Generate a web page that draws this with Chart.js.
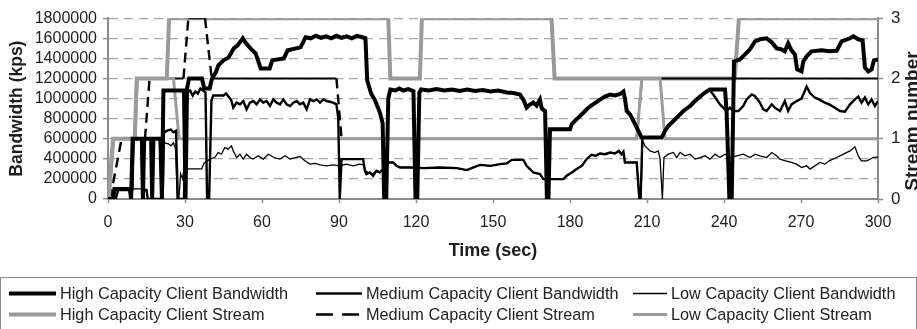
<!DOCTYPE html>
<html>
<head>
<meta charset="utf-8">
<script src="https://cdn.jsdelivr.net/npm/chart.js@4.4.1/dist/chart.umd.min.js"></script>
<style>
  html, body { margin:0; padding:0; background:#fff; }
  #wrap { position:relative; width:917px; height:329px; overflow:hidden; }
  #c { position:absolute; left:0; top:0; }
  #legend { position:absolute; left:0; top:277px; width:917px; height:80px; box-sizing:border-box;
            border:1px solid #8a8a8a; font-family:"Liberation Sans", Arial, sans-serif; font-size:16.3px; color:#222; }
  .item { position:absolute; white-space:nowrap; line-height:18px; height:18px; }
  .item svg { position:absolute; top:0; }
  .item span { position:absolute; top:0; }
</style>
</head>
<body>
<div id="wrap">
  <canvas id="c" width="917" height="280"></canvas>
  <div id="legend"></div>
</div>
<script>
// ---------- data (time in sec, bandwidth in kps, streams as count) ----------
const xTicks = [0, 30, 60, 90, 120, 150, 180, 210, 240, 270, 300];
const yTicks = [0, 200000, 400000, 600000, 800000, 1000000, 1200000, 1400000, 1600000, 1800000];
const streamTicks = [0, 1, 2, 3];

const seriesNames = [
  "High Capacity Client Bandwidth", "Medium Capacity Client Bandwidth", "Low Capacity Client Bandwidth",
  "High Capacity Client Stream", "Medium Capacity Client Stream", "Low Capacity Client Stream"
];
const xTitle = "Time (sec)";
const yTitle = "Bandwidth (kps)";
const y2Title = "Stream number";

const highBandwidth = [[0,0],[2,0],[2.5,100000],[8.5,100000],[9,0],[9.6,600000],[13.2,600000],[13.6,0],[14.1,600000],[16.8,600000],[17.2,0],[17.7,600000],[20.4,600000],[21,0],[21.6,1080000],[29.6,1080000],[30.2,0],[30.8,1100000],[31.6,1200000],[36.6,1200000],[37.5,1100000],[39.6,1100000],[40.5,1200000],[42,1260000],[43,1330000],[45,1380000],[47,1410000],[49,1500000],[50.5,1530000],[52.5,1600000],[53.5,1560000],[55.5,1500000],[57.5,1450000],[59.5,1300000],[63,1300000],[64,1380000],[68.5,1400000],[70,1480000],[75,1510000],[77,1610000],[79,1600000],[81,1625000],[83,1605000],[85,1620000],[87,1600000],[89,1625000],[91,1605000],[93,1620000],[95,1600000],[97,1625000],[99,1610000],[100.3,1600000],[101,1180000],[102.5,1050000],[104,985000],[106,855000],[107,755000],[107.6,0],[108.4,0],[109.2,1000000],[110,1090000],[112,1080000],[113.5,1100000],[115,1080000],[117,1095000],[119,1075000],[119.8,0],[120.5,0],[121.3,1060000],[122,1090000],[125,1080000],[128,1095000],[131,1080000],[134,1090000],[137,1075000],[140,1090000],[143,1075000],[146,1085000],[149,1070000],[152,1080000],[155.4,1060000],[158,1055000],[160.5,1040000],[161.8,990000],[163.1,910000],[164.4,940000],[165.7,960000],[167,930000],[168.3,990000],[169,900000],[170.3,875000],[171,0],[171.6,0],[172.2,695000],[180,695000],[180.7,745000],[182.6,795000],[184.6,843000],[186.5,893000],[188,925000],[191.7,990000],[193.6,1020000],[195.6,1040000],[197.5,1030000],[199.5,1045000],[200.8,1070000],[201.4,1000000],[202.1,876000],[203.4,843000],[204.7,777000],[206,710000],[207.9,612000],[215.7,612000],[217,678000],[218.3,727000],[220.3,777000],[222.2,826000],[224.2,876000],[226.8,926000],[228.7,975000],[230.7,1020000],[232.6,1060000],[234.5,1090000],[240.4,1090000],[241,880000],[242.1,0],[243,0],[243.9,1370000],[246.2,1390000],[248.2,1440000],[250.1,1490000],[252.1,1570000],[254,1590000],[256.6,1600000],[258.6,1560000],[260.5,1500000],[262.4,1490000],[263.7,1470000],[265,1550000],[266.3,1480000],[267.6,1440000],[268.5,1290000],[270.2,1270000],[270.9,1370000],[272.2,1420000],[274.1,1470000],[278,1480000],[281,1470000],[283.9,1475000],[285.8,1570000],[289.1,1600000],[290.4,1620000],[292.3,1590000],[294,1580000],[294.9,1310000],[296.2,1270000],[297.5,1290000],[298.4,1380000],[300,1390000]];

const mediumBandwidth = [[0,0],[3,0],[4,90000],[9.5,90000],[10,600000],[13,600000],[13.5,90000],[15,90000],[15.5,0],[21.3,0],[21.8,660000],[23,680000],[24.5,690000],[25.5,665000],[26.5,680000],[27.2,0],[29.6,0],[30.4,1050000],[32,1080000],[33,1030000],[34,1070000],[35,1050000],[36,1100000],[37,1080000],[38,1060000],[38.6,0],[39.4,0],[40.3,980000],[41,1030000],[45,1030000],[46,1050000],[48,985000],[48.8,909000],[50.1,959000],[51.4,942000],[52.7,975000],[54,893000],[55.3,959000],[56.6,975000],[57.9,942000],[59.2,992000],[60.5,959000],[61.8,975000],[63.1,926000],[64.4,992000],[65.7,959000],[67,942000],[68.3,992000],[69.6,942000],[70.9,926000],[72.2,959000],[73.5,975000],[74.8,942000],[76.1,959000],[77.4,893000],[78.7,992000],[80,975000],[81.3,992000],[82.6,959000],[83.9,992000],[85.2,975000],[86.5,968000],[87.7,959000],[89,942000],[89.7,810000],[90.3,0],[91,397000],[99.4,397000],[100.1,281000],[100.7,248000],[102,264000],[103.3,231000],[104.6,281000],[105.9,264000],[107.2,298000],[108.5,364000],[111.1,364000],[112.4,330000],[113.8,314000],[118,314000],[122.9,307000],[129,314000],[135.9,307000],[139.8,288000],[142.4,314000],[145,340000],[148.9,330000],[152.8,347000],[155.4,354000],[157.3,390000],[161.8,390000],[163.1,330000],[164.4,298000],[165.7,264000],[168.3,248000],[169.6,198000],[177.4,198000],[178.7,231000],[180.7,264000],[182.6,298000],[184.6,330000],[186.5,397000],[188.4,440000],[190,430000],[191.7,453000],[193.6,446000],[195.6,463000],[197.5,453000],[199,479000],[200,446000],[200.8,473000],[201.4,364000],[206,364000],[207,0],[207.5,0],[208.2,612000],[215.7,612000],[217,678000],[218.3,727000],[220.3,777000],[222.2,826000],[224.2,876000],[226.8,926000],[228.7,975000],[230.7,1020000],[232.6,1060000],[234.5,1085000],[235.8,1040000],[237.1,992000],[238.4,942000],[239.7,909000],[241,876000],[242.3,909000],[243.6,876000],[245.6,876000],[247.5,926000],[248.8,992000],[250.8,1040000],[252,1025000],[254,959000],[255.3,893000],[256.6,876000],[258.6,942000],[259.8,909000],[261.8,876000],[263.7,975000],[265,876000],[266.3,942000],[268.3,975000],[270.2,1000000],[272.2,1120000],[273.5,1055000],[275.4,1010000],[277,992000],[279.3,959000],[281,942000],[283.2,909000],[285.2,876000],[287.1,870000],[289.1,942000],[291,992000],[292.3,1020000],[293.6,959000],[294.9,1010000],[296.2,942000],[297.5,992000],[298.8,926000],[300,975000]];

const lowBandwidth = [[0,0],[2,0],[3,80000],[4.5,100000],[13.5,100000],[14,0],[20.6,0],[21.2,500000],[22,560000],[23.5,550000],[24.5,530000],[25.5,560000],[26.3,500000],[27,0],[27.6,0],[28.3,250000],[29,200000],[29.6,300000],[36.5,300000],[37.5,360000],[39.7,397000],[41.6,413000],[42.9,463000],[44.2,446000],[45.5,512000],[46.8,496000],[48.1,529000],[48.8,479000],[50.1,413000],[51.4,446000],[52.7,397000],[54,446000],[55.3,413000],[56.6,397000],[58.5,430000],[60.5,397000],[62.4,446000],[64.7,413000],[67,397000],[69,430000],[70.9,397000],[72.9,413000],[74.8,423000],[76.7,380000],[78.7,347000],[80.6,354000],[82.6,340000],[85.2,330000],[87.7,340000],[90.3,330000],[92.9,347000],[95.5,330000],[98.1,347000],[99.4,340000],[100.3,281000],[101.5,264000],[103,248000],[104.6,281000],[106,270000],[107.2,298000],[108.5,364000],[111.1,364000],[112.4,330000],[113.8,314000],[118,314000],[122.9,307000],[129,314000],[135.9,307000],[139.8,288000],[142.4,314000],[145,340000],[148.9,330000],[152.8,347000],[155.4,354000],[157.3,390000],[161.8,390000],[163.1,330000],[164.4,298000],[165.7,264000],[168.3,248000],[169.6,198000],[177.4,198000],[178.7,231000],[180.7,264000],[182.6,298000],[184.6,330000],[186.5,397000],[188.4,440000],[190,430000],[191.7,453000],[193.6,446000],[195.6,463000],[197.5,453000],[199,479000],[200,446000],[200.8,473000],[201.4,364000],[206,364000],[207,0],[207.6,0],[208.3,579000],[209.2,529000],[211.2,479000],[213,463000],[214.4,479000],[215.1,397000],[216,0],[216.6,413000],[218.3,446000],[220.3,463000],[221.6,413000],[222.9,463000],[224.8,430000],[226.8,446000],[228.7,397000],[230.7,413000],[232.6,430000],[234.5,397000],[236.5,446000],[238.4,413000],[240.4,446000],[242.3,413000],[245,430000],[247.5,446000],[250.1,413000],[252.1,446000],[254,430000],[256.6,413000],[258.6,463000],[260.5,430000],[261.8,397000],[264,380000],[266.3,364000],[268.3,347000],[270.2,314000],[272.2,330000],[273.5,298000],[275.4,330000],[277.4,364000],[279.3,347000],[281,380000],[283.9,413000],[286.5,446000],[289.1,479000],[291,519000],[292.3,430000],[293.5,380000],[295.6,380000],[298.2,413000],[300,420000]];

const highStream = [[0,0],[0.3,0],[2,1],[10.4,1],[11.2,2],[22.9,2],[23.8,3],[109.2,3],[110,2],[121.5,2],[122.3,3],[172.8,3],[174,2],[244.2,2],[245.8,3],[300,3]];
const mediumStream = [[0,0],[0.8,0],[5.3,1],[14.4,1],[16.2,2],[29.4,2],[31.3,3],[37.8,3],[40.4,2],[89,2],[91,1],[206,1],[208,2],[300,2]];
const lowStream = [[0,0],[0.5,0],[2.2,1],[10.6,1],[11.4,2],[25.5,2],[27.7,1],[206,1],[208,2],[215.1,2],[217,1],[300,1]];

// ---------- styles ----------
const FONT = '"Liberation Sans", Arial, sans-serif';
const AXIS = '#8c8c8c';
const GRID = '#a6a6a6';
const TEXT = '#1e1e1e';
const styles = [
  {color:'#000', width:4,   dash:[],     axis:'y',  order:0, data:highBandwidth},
  {color:'#000', width:2.4, dash:[],     axis:'y',  order:1, data:mediumBandwidth},
  {color:'#000', width:1.3, dash:[],     axis:'y',  order:2, data:lowBandwidth},
  {color:'#999', width:4,   dash:[],     axis:'y1', order:5, data:highStream},
  {color:'#000', width:2.4, dash:[10,6], axis:'y1', order:4, data:mediumStream},
  {color:'#9c9c9c', width:3, dash:[],    axis:'y1', order:3, data:lowStream}
];

const datasets = styles.map((s, i) => {
  const ds = {
    label: seriesNames[i], data: s.data, yAxisID: s.axis, order: s.order,
    borderColor: s.color, borderWidth: s.width, borderDash: s.dash,
    pointRadius: 0, tension: 0, fill: false, borderJoinStyle: 'miter', borderCapStyle: 'butt'
  };
  if (s.dash.length) {
    // flat runs of the dashed series read as a thin solid line in the reference
    ds.segment = {
      borderDash: c => (c.p0.parsed.y === c.p1.parsed.y ? [] : s.dash),
      borderWidth: c => (c.p0.parsed.y === c.p1.parsed.y ? 2 : s.width)
    };
  }
  return ds;
});

const rightTitle = {
  id: 'rightTitle',
  afterDraw(chart) {
    const ctx = chart.ctx;
    ctx.save();
    ctx.translate(918, 121);
    ctx.rotate(-Math.PI / 2);
    ctx.font = 'bold 19px ' + FONT;
    ctx.fillStyle = TEXT;
    ctx.textAlign = 'center';
    ctx.textBaseline = 'alphabetic';
    ctx.fillText(y2Title, 0, 0);
    ctx.restore();
  }
};

new Chart(document.getElementById('c'), {
  type: 'line',
  data: { datasets },
  options: {
    responsive: false, animation: false, devicePixelRatio: 1,
    layout: { padding: { top: 17, left: 0, right: 0, bottom: 0 } },
    plugins: { legend: { display: false }, tooltip: { enabled: false } },
    scales: {
      x: {
        type: 'linear', min: 0, max: 300,
        afterBuildTicks: s => { s.ticks = xTicks.map(v => ({ value: v })); },
        afterFit: s => { s.height = 81; },
        ticks: { autoSkip: false, maxRotation: 0, padding: 10, color: TEXT, font: { family: FONT, size: 16 }, callback: v => String(v) },
        grid: { display: true, drawOnChartArea: false, drawTicks: true, tickLength: 4, tickColor: AXIS, tickWidth: 1.5 },
        border: { display: true, color: AXIS, width: 2 },
        title: { display: true, text: xTitle, color: TEXT, font: { family: FONT, size: 18, weight: 'bold' }, padding: { top: 0, bottom: 18 } }
      },
      y: {
        type: 'linear', position: 'left', min: 0, max: 1800000,
        afterBuildTicks: s => { s.ticks = yTicks.map(v => ({ value: v })); },
        afterFit: s => { s.width = 108; },
        ticks: { autoSkip: false, padding: 6, color: TEXT, font: { family: FONT, size: 16 }, callback: v => String(v) },
        grid: { color: GRID, lineWidth: 1.3, tickLength: 5, tickColor: AXIS, tickWidth: 1.5 },
        border: { display: true, color: AXIS, width: 2, dash: [9, 6] },
        title: { display: true, text: yTitle, color: TEXT, font: { family: FONT, size: 17.5, weight: 'bold' }, padding: { top: 7, bottom: 0 } }
      },
      y1: {
        type: 'linear', position: 'right', min: 0, max: 3,
        afterBuildTicks: s => { s.ticks = streamTicks.map(v => ({ value: v })); },
        afterFit: s => { s.width = 39; },
        ticks: { autoSkip: false, padding: 8, color: TEXT, font: { family: FONT, size: 17 }, callback: v => String(v) },
        grid: { drawOnChartArea: false, drawTicks: true, tickLength: 5, tickColor: AXIS, tickWidth: 1.5 },
        border: { display: true, color: AXIS, width: 2 }
      }
    }
  },
  plugins: [rightTitle]
});

// ---------- HTML legend (3 columns x 2 rows) ----------
const legendPos = [
  {x:8,   y:6,  sw:47}, {x:315, y:6,  sw:46}, {x:632, y:6,  sw:34},
  {x:8,   y:27, sw:47}, {x:315, y:27, sw:46}, {x:632, y:27, sw:34}
];
const leg = document.getElementById('legend');
styles.forEach((s, i) => {
  const p = legendPos[i];
  const d = document.createElement('div');
  d.className = 'item';
  d.style.left = p.x + 'px';
  d.style.top = p.y + 'px';
  const dash = s.dash.length ? ' stroke-dasharray="17,9"' : '';
  d.innerHTML = '<svg width="' + p.sw + '" height="18"><line x1="0" y1="9.5" x2="' + p.sw + '" y2="9.5" stroke="' + s.color +
    '" stroke-width="' + s.width + '"' + dash + '/></svg><span style="left:' + (p.sw + 4) + 'px">' + seriesNames[i] + '</span>';
  leg.appendChild(d);
});
</script>
</body>
</html>
